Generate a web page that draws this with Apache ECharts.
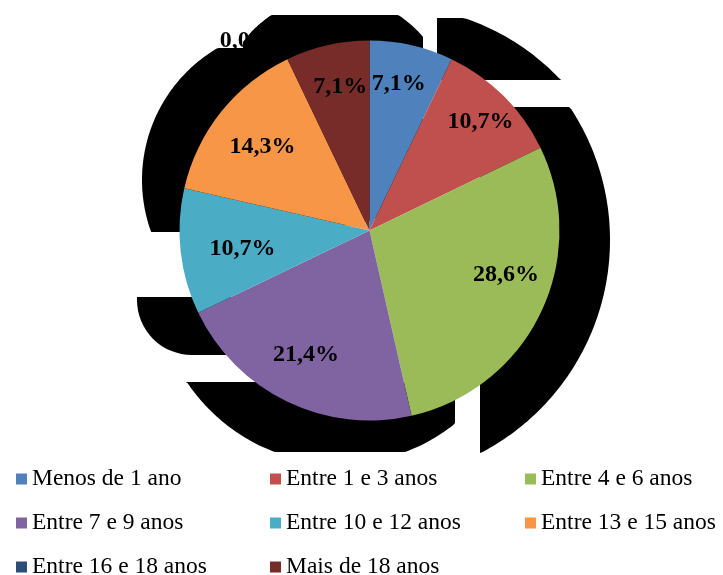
<!DOCTYPE html>
<html>
<head>
<meta charset="utf-8">
<script src="https://cdn.jsdelivr.net/npm/echarts@6/dist/echarts.min.js"></script>
<style>
html, body { margin: 0; padding: 0; background: #fff; }
#chart { width: 723px; height: 575px; }
</style>
</head>
<body>
<div id="chart"></div>
<script>
// faixas de tempo e percentagens
var categories = ['Menos de 1 ano', 'Entre 1 e 3 anos', 'Entre 4 e 6 anos', 'Entre 7 e 9 anos',
                  'Entre 10 e 12 anos', 'Entre 13 e 15 anos', 'Entre 16 e 18 anos', 'Mais de 18 anos'];
var percents = [7.1, 10.7, 28.6, 21.4, 10.7, 14.3, 0, 7.1];
var colors = ['#4F81BD', '#C0504D', '#9BBB59', '#8064A2', '#4BACC6', '#F79646', '#2C4D75', '#772C2A'];

// legenda em 3 colunas (indices das categorias)
var legendColumns = [[0, 3, 6], [1, 4, 7], [2, 5]];
var legendLeft = [16, 270, 525];

// pequeno ajuste (px) dos rotulos internos, como o "melhor ajuste" do Excel
var labelNudge = [[-3, -4], [8, -5], [5, -19], [0, -7], [18, 2], [7, 7], [0, 0], [3, -1]];

var serif = "'Liberation Serif', 'Times New Roman', serif";
var center = [369.5, 230.5];
var radius = 190;

function fmt(p) {
  return p.value.toFixed(1).replace('.', ',') + '%';
}

// sombra preta "partida" atras do grafico: circulo recortado por um retangulo
function blob(cx, cy, r, x0, y0, x1, y1) {
  var pts = [];
  for (var i = 0; i < 360; i++) {
    var a = i / 360 * Math.PI * 2;
    var x = cx + r * Math.cos(a), y = cy + r * Math.sin(a);
    pts.push([Math.min(x1, Math.max(x0, x)), Math.min(y1, Math.max(y0, y))]);
  }
  return pts;
}
var shadowPieces = [
  blob(295, 180, 153, 0, 48, 300, 232),     // esquerda alta
  blob(335, 111, 115, 243, 15, 423, 232),   // topo
  blob(390, 240, 234, 437, 18, 700, 80),    // topo direita
  blob(370, 240, 240, 480, 107, 700, 453),  // direita
  blob(340, 280, 184, 182, 382, 455, 452)   // baixo
];
var graphics = shadowPieces.map(function (pts) {
  return { type: 'polygon', z: 0, silent: true, shape: { points: pts }, style: { fill: '#000' } };
});
graphics.push({ type: 'rect', z: 0, silent: true,
  shape: { x: 137, y: 297, width: 103, height: 58, r: [0, 0, 0, 55] }, style: { fill: '#000' } });
// pedaco que tapa o "%" do rotulo 0,0%
graphics.push({ type: 'polygon', z: 50, silent: true,
  shape: { points: blob(335, 111, 115, 251, 15, 300, 52) }, style: { fill: '#000' } });

var labelFont = { fontFamily: serif, fontWeight: 'bold', fontSize: 24, color: '#000' };

function innerLabel(i) {
  var d = labelNudge[i];
  return {
    padding: [0, Math.max(0, -2 * d[0]), 0, Math.max(0, 2 * d[0])],
    rich: { t: labelFont, g: { height: Math.max(1, 2 * Math.abs(d[1])), fontSize: 1 } }
  };
}

var chart = echarts.init(document.getElementById('chart'));
chart.setOption({
  animation: false,
  graphic: graphics,
  legend: legendColumns.map(function (col, k) {
    return {
      orient: 'vertical',
      left: legendLeft[k],
      top: 467,
      height: 200,
      padding: 0,
      itemWidth: 11,
      itemHeight: 11,
      itemGap: 20,
      icon: 'rect',
      selectedMode: false,
      data: col.map(function (i) { return categories[i]; }),
      textStyle: { fontFamily: serif, fontSize: 23.5, lineHeight: 20, color: '#000' }
    };
  }),
  series: [
    {
      type: 'pie',
      center: center,
      radius: [0, radius],
      startAngle: 90,
      clockwise: true,
      avoidLabelOverlap: false,
      emphasis: { disabled: true },
      data: categories.map(function (n, i) {
        return { name: n, value: percents[i], itemStyle: { color: colors[i] },
                 label: { show: percents[i] === 0 } };
      }),
      label: Object.assign({ show: false, position: 'outside', formatter: fmt }, labelFont),
      labelLine: { show: false, length: 20, length2: 0 }
    },
    {
      // serie transparente so para posicionar os rotulos internos
      type: 'pie',
      center: center,
      radius: [96, radius],
      startAngle: 90,
      clockwise: true,
      silent: true,
      emphasis: { disabled: true },
      itemStyle: { color: 'transparent' },
      data: categories.map(function (n, i) {
        return { name: n, value: percents[i], label: innerLabel(i) };
      }),
      label: {
        show: true,
        position: 'inside',
        formatter: function (p) {
          if (!p.value) return '';
          var t = '{t|' + fmt(p) + '}';
          var dy = labelNudge[p.dataIndex][1];
          if (dy < 0) return t + '\n{g| }';
          if (dy > 0) return '{g| }\n' + t;
          return t;
        }
      },
      labelLine: { show: false }
    }
  ]
});
</script>
</body>
</html>
